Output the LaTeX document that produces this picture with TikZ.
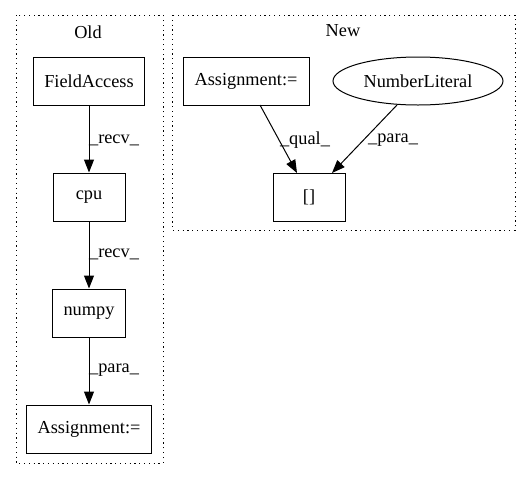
\documentclass[tikz,border=0pt]{standalone}
\usepackage{fontspec}
\setmainfont{Liberation Serif}
\usetikzlibrary{arrows.meta,shapes.geometric}
\begin{document}
\begin{tikzpicture}[x=1pt,y=-1pt,
  every node/.style={font=\fontsize{18.3}{20}\selectfont},
  box/.style={draw,line width=1pt,minimum height=48pt,inner sep=0pt},
  oval/.style={draw,ellipse,line width=1pt,minimum height=48pt,minimum width=170pt,inner sep=0pt},
  cluster/.style={draw,line width=1pt,dash pattern=on 1.2pt off 3.6pt},
  edge/.style={draw,line width=1pt,-{Triangle[length=13pt,width=10pt]}},
  elabel/.style={inner sep=0pt}]
\useasboundingbox (0,0) rectangle (531,480);
% clusters
\path[cluster] (16,15) rectangle (163,463);
\path[cluster] (172,15) rectangle (515,230);
\node (oldt) at (88,32) {Old};
\node (newt) at (343,31) {New};
% old nodes
\node[box,minimum width=111pt] (fa) at (89,81) {FieldAccess};
\node[box,minimum width=72pt] (cpu) at (89,197) {cpu};
\node[box,minimum width=73pt] (np) at (89,313) {numpy};
\node[box,minimum width=125pt] (as1) at (89,429) {Assignment:=};
% new nodes
\node[box,minimum width=126pt] (as2) at (246,81) {Assignment:=};
\node[oval] (nl) at (418,81) {NumberLiteral};
\node[box,minimum width=72pt] (br) at (309,197) {[]};
% edges
\path[edge] (fa) -- (cpu);
\path[edge] (cpu) -- (np);
\path[edge] (np) -- (as1);
\coordinate (qs) at (260,105);
\coordinate (qe) at (297,173);
\coordinate (ps) at (397,105);
\coordinate (pe) at (332,173);
\path[edge] (qs) -- (qe);
\path[edge] (ps) -- (pe);
% labels
\node[elabel] (l1) at (114,140) {\_recv\_};
\node[elabel] (l2) at (114,254) {\_recv\_};
\node[elabel] (l3) at (114,370) {\_para\_};
\node[elabel] (l4) at (305,140) {\_qual\_};
\node[elabel] (l5) at (393,140) {\_para\_};
\end{tikzpicture}
\end{document}
